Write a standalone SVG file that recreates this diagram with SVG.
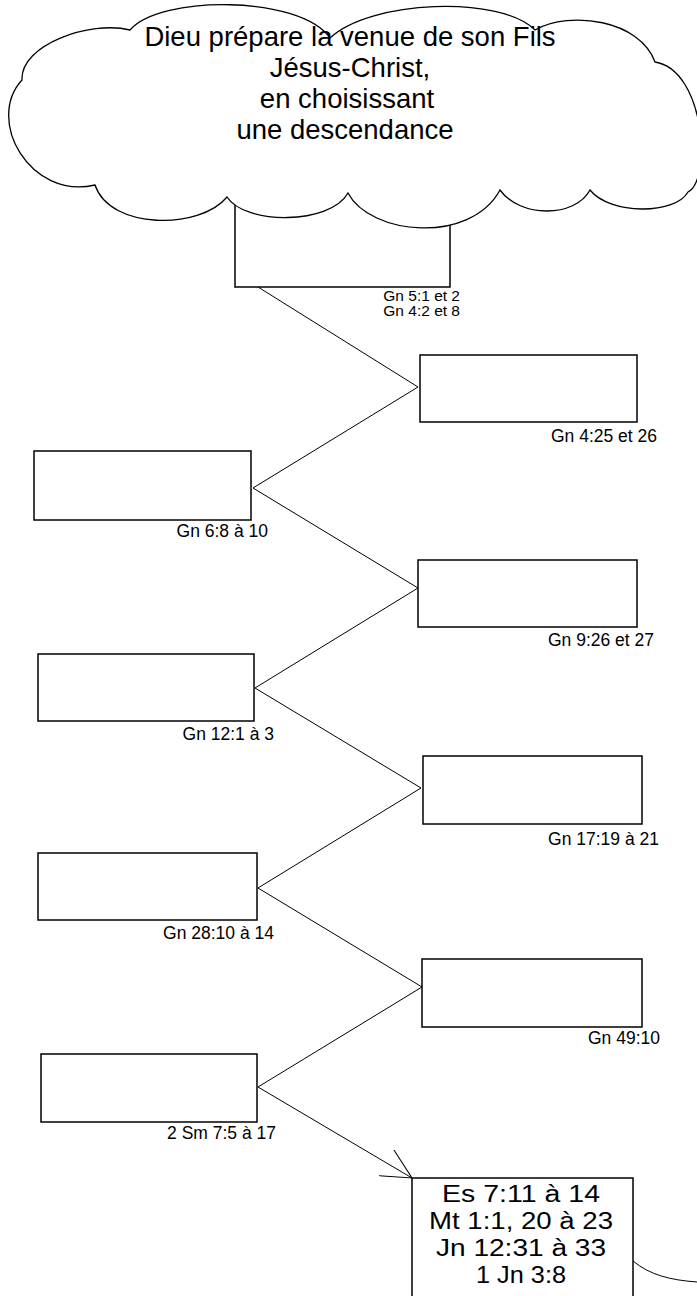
<svg xmlns="http://www.w3.org/2000/svg" width="697" height="1296" viewBox="0 0 697 1296">
<style>
.box{fill:#fff;stroke:#000;stroke-width:1.5}
.lbl{font-family:"Liberation Sans",Arial,sans-serif;font-size:17.5px;fill:#000;text-anchor:end}
.sm{font-size:15.5px}
.big{font-family:"Liberation Sans",Arial,sans-serif;font-size:27.5px;fill:#000;text-anchor:middle}
.mid{font-family:"Liberation Sans",Arial,sans-serif;font-size:23px;fill:#000;text-anchor:middle}
.con{fill:none;stroke:#000;stroke-width:1}
</style>
<defs>
<marker id="arr" viewBox="0 0 20 20" refX="20" refY="10" markerWidth="30" markerHeight="30" markerUnits="userSpaceOnUse" orient="auto">
<path d="M0,0 L20,10 L0,20" fill="none" stroke="#000" stroke-width="0.7"/>
</marker>
</defs>
<rect width="697" height="1296" fill="#fff"/>
<g id="connectors">
<path class="con" d="M258,287 L418,387 L253,488 L418,588 L255,688 L421,788 L258,888 L422,987 L258,1087"/>
<path class="con" d="M258,1087 L412,1178" marker-end="url(#arr)"/>
<path class="con" d="M633,1261 C650,1275 670,1280 697,1282"/>
</g>
<g id="node1">
<rect class="box" x="235" y="170" width="215" height="117"/>
<text class="lbl sm" x="460" y="301">Gn 5:1 et 2</text>
<text class="lbl sm" x="460" y="316">Gn 4:2 et 8</text>
</g>
<g id="cloud">
<path d="M22,80 C20,45 90,20 130,30 C160,-5 300,-5 330,38 C370,0 500,-5 535,30 C570,10 640,20 655,62 C705,70 712,180 688,192 C675,215 610,215 590,190 C575,218 520,218 500,190 C470,245 370,235 348,193 C330,225 245,225 227,197 C200,230 110,230 95,185 C30,200 -15,120 22,80 Z" fill="#fff" stroke="#000" stroke-width="1.3"/>
<text class="big" x="350" y="46">Dieu prépare la venue de son Fils</text>
<text class="big" x="350" y="77">Jésus-Christ,</text>
<text class="big" x="347" y="108">en choisissant</text>
<text class="big" x="345" y="139">une descendance</text>
</g>
<g id="node2">
<rect class="box" x="420" y="355" width="217" height="67"/>
<text class="lbl" x="657" y="442">Gn 4:25 et 26</text>
</g>
<g id="node3">
<rect class="box" x="34" y="451" width="217" height="69"/>
<text class="lbl" x="268" y="537">Gn 6:8 à 10</text>
</g>
<g id="node4">
<rect class="box" x="418" y="560" width="219" height="67"/>
<text class="lbl" x="654" y="646">Gn 9:26 et 27</text>
</g>
<g id="node5">
<rect class="box" x="38" y="654" width="216" height="67"/>
<text class="lbl" x="274" y="740">Gn 12:1 à 3</text>
</g>
<g id="node6">
<rect class="box" x="423" y="756" width="219" height="68"/>
<text class="lbl" x="659" y="845">Gn 17:19 à 21</text>
</g>
<g id="node7">
<rect class="box" x="38" y="853" width="219" height="67"/>
<text class="lbl" x="274" y="939">Gn 28:10 à 14</text>
</g>
<g id="node8">
<rect class="box" x="422" y="959" width="220" height="68"/>
<text class="lbl" x="660" y="1044">Gn 49:10</text>
</g>
<g id="node9">
<rect class="box" x="41" y="1054" width="216" height="68"/>
<text class="lbl" x="276" y="1139">2 Sm 7:5 à 17</text>
</g>
<g id="node10">
<rect class="box" x="412" y="1178" width="221" height="130"/>
<text class="mid" x="521" y="1202" textLength="158" lengthAdjust="spacingAndGlyphs">Es 7:11 à 14</text>
<text class="mid" x="521" y="1229" textLength="184" lengthAdjust="spacingAndGlyphs">Mt 1:1, 20 à 23</text>
<text class="mid" x="521" y="1256" textLength="170" lengthAdjust="spacingAndGlyphs">Jn 12:31 à 33</text>
<text class="mid" x="521" y="1283" textLength="90" lengthAdjust="spacingAndGlyphs">1 Jn 3:8</text>
</g>
</svg>
